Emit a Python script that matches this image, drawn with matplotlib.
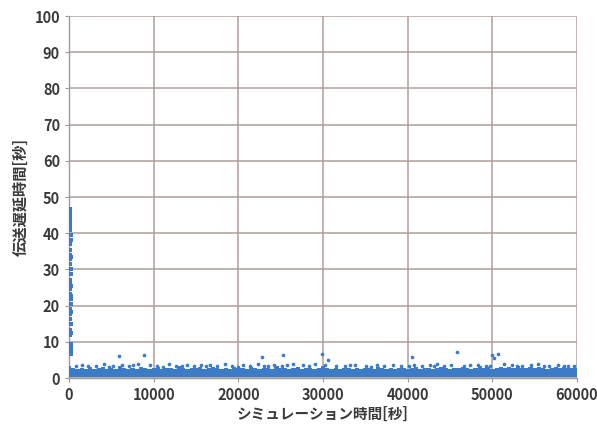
import matplotlib
matplotlib.use("Agg")
import matplotlib.pyplot as plt
import numpy as np

plt.rcParams['font.family'] = ['Noto Sans CJK JP', 'DejaVu Sans']

# Dense delay band, sampled every 500 s of simulation time
band_t = np.arange(0, 60001, 500)
band_top = [
    3.3, 2.9, 2.5, 2.8, 2.4, 3.0, 2.6, 2.7, 3.1, 2.5, 2.8, 2.6, 3.2, 2.7, 2.5, 2.9,
    2.6, 3.0, 2.8, 2.5, 2.7, 3.1, 2.6, 2.9, 2.7, 2.5, 3.2, 2.8, 2.6, 2.9, 2.7, 3.0,
    2.5, 2.8, 3.1, 2.7, 2.6, 2.9, 2.5, 3.0, 2.7, 2.8, 2.6, 3.1, 2.7, 2.5, 2.9, 2.8,
    2.6, 3.2, 2.7, 2.9, 2.5, 2.8, 3.0, 2.6, 2.7, 2.9, 2.5, 2.8, 3.4, 2.7, 2.6, 2.9,
    2.5, 2.8, 2.7, 2.6, 2.9, 2.5, 2.7, 2.8, 2.6, 3.0, 2.7, 2.5, 2.8, 2.6, 2.9, 2.7,
    2.5, 2.8, 3.1, 2.6, 2.7, 2.9, 2.5, 2.8, 3.0, 2.7, 2.6, 2.9, 2.8, 3.1, 2.7, 2.5,
    2.9, 3.2, 2.8, 3.0, 2.6, 2.9, 3.1, 2.8, 3.0, 2.7, 3.2, 2.9, 2.8, 3.1, 2.7, 3.0,
    2.8, 2.6, 2.9, 3.1, 2.7, 3.0, 2.8, 2.9, 2.7,
]
band_bottom = 0.3

# Individual delays above the band
dot_t = [
    800, 1500, 2300, 3200, 4100, 4700, 5200, 6300, 7100, 7600, 8100, 9600, 10400,
    11100, 11800, 12600, 13300, 13900, 14800, 15600, 16200, 16700, 17500, 18400,
    19300, 19900, 20600, 21400, 22300, 23000, 23500, 24200, 25100, 25800, 26400,
    27600, 28300, 29100, 30200, 31500, 32600, 33200, 33800, 35100, 35700, 36400,
    37200, 38300, 39200, 40100, 40800, 41700, 42600, 43100, 43500, 44300, 45100,
    46600, 47400, 48300, 49200, 49700, 51400, 52300, 52900, 53500, 54600, 55400,
    56100, 56700, 57800, 58400, 58900, 59600,
]
dot_d = [
    3.4, 3.6, 3.2, 3.3, 3.9, 3.1, 3.4, 3.7, 3.2, 3.5, 3.8, 3.5, 3.3,
    3.1, 3.9, 3.4, 3.2, 3.6, 3.2, 3.7, 3.3, 3.5, 3.3, 3.8,
    3.4, 3.1, 3.6, 3.2, 3.9, 3.3, 3.4, 3.7, 3.3, 3.5, 3.8,
    3.5, 3.3, 3.9, 3.6, 3.4, 3.2, 3.5, 3.6, 3.3, 3.1, 3.5,
    3.2, 3.7, 3.4, 3.3, 3.6, 3.3, 3.5, 3.2, 3.8, 3.4, 3.6,
    3.3, 3.7, 3.5, 3.4, 3.2, 3.8, 3.5, 3.3, 3.3, 3.6, 3.9,
    3.4, 3.4, 3.5, 3.3, 3.3, 3.4,
]

# Larger delay outliers
peak_t = [5900, 8900, 22800, 25300, 29900, 30600, 40500, 45800, 50200, 50700, 49900]
peak_d = [6.1, 6.3, 5.8, 6.3, 6.6, 5.0, 5.8, 7.2, 5.5, 6.6, 6.3]

# Start-up transient right after t = 0
start_t = [60, 80, 100, 120, 140, 160, 180, 200, 90, 110, 130, 150, 170, 190, 210,
           70, 95, 125, 155, 185, 215, 105, 135, 165, 195, 75, 145, 230, 250, 240,
           65, 85, 115, 175, 205, 225, 245, 260, 270, 280]
start_d = [46.8, 45.9, 44.7, 43.5, 42.2, 40.8, 39.6, 38.1, 36.9, 35.5, 34.0, 32.8,
           31.4, 30.1, 28.7, 27.2, 26.0, 24.6, 23.1, 21.9, 20.4, 19.0, 17.6, 16.2,
           14.9, 13.3, 11.8, 9.4, 7.8, 6.5, 46.2, 44.0, 41.5, 37.4, 33.3, 25.3,
           22.6, 18.3, 12.5, 8.6]

blue = '#3b7bc8'
grid_c = '#ad9f9b'
text_c = '#3a3a3a'

fig = plt.figure(figsize=(5.97, 4.33), dpi=100)
ax = fig.add_axes([0.1156, 0.127, 0.851, 0.836])

ax.fill_between(band_t, band_bottom, band_top, step='mid', color=blue, lw=0, zorder=3)
ax.scatter(dot_t, dot_d, s=7, color=blue, lw=0, zorder=3)
ax.scatter(peak_t, peak_d, s=7, color=blue, lw=0, zorder=3)
ax.scatter(start_t, start_d, s=8, color=blue, lw=0, marker='s', zorder=3)

ax.set_xlim(0, 60000)
ax.set_ylim(0, 100)
ax.set_xticks(np.arange(0, 60001, 10000))
ax.set_yticks(np.arange(0, 101, 10))
ax.grid(True, color=grid_c, lw=1.1, zorder=0)
ax.set_axisbelow(True)

for s in ['top', 'right']:
    ax.spines[s].set_visible(False)
for s in ['left', 'bottom']:
    ax.spines[s].set_color('#9a9a9a')
    ax.spines[s].set_linewidth(1.0)

ax.tick_params(axis='both', colors='#9a9a9a', labelcolor=text_c, labelsize=10.5, length=3)
for lbl in ax.get_xticklabels() + ax.get_yticklabels():
    lbl.set_fontweight('bold')

ax.set_xlabel('シミュレーション時間[秒]', fontsize=10.5, fontweight='bold', color=text_c, labelpad=2)
ax.set_ylabel('伝送遅延時間[秒]', fontsize=11, fontweight='bold', color=text_c, labelpad=4)

fig.savefig('out.png', dpi=100, facecolor='white')
